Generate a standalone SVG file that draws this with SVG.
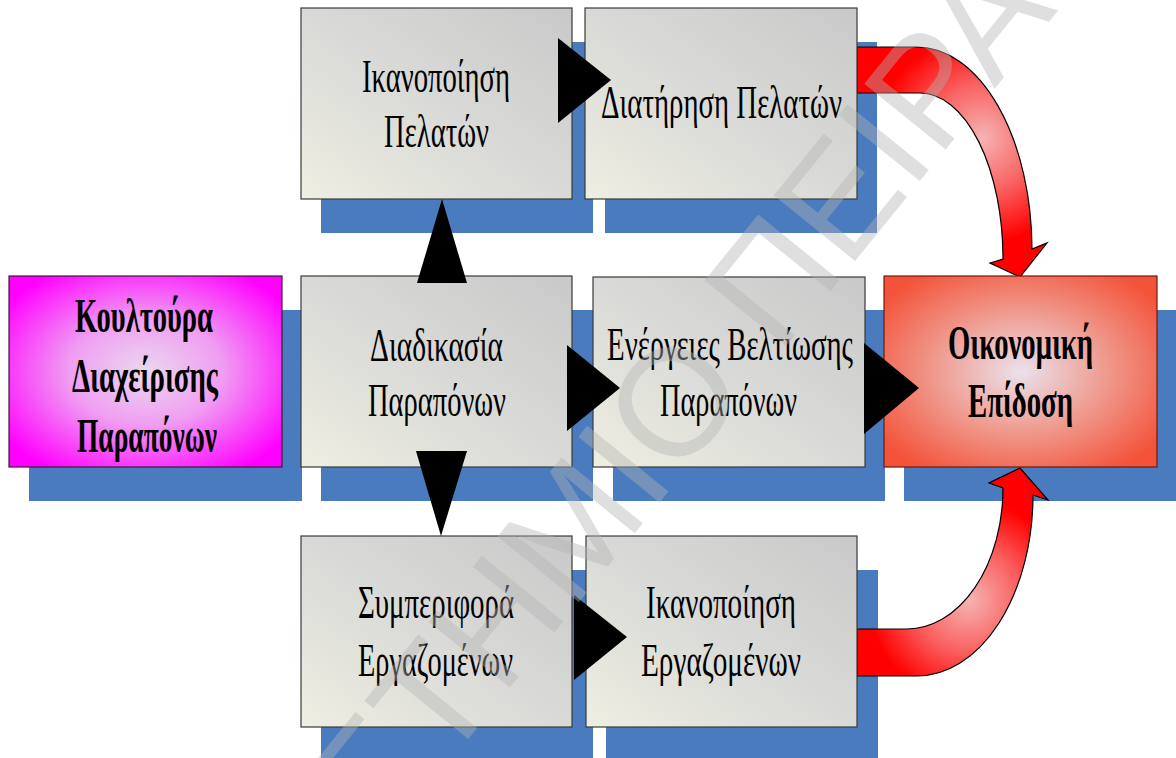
<svg xmlns="http://www.w3.org/2000/svg" width="1176" height="758" viewBox="0 0 1176 758">
  <defs>
    <linearGradient id="gGray" x1="0" y1="1" x2="1" y2="0">
      <stop offset="0" stop-color="#eeeee2"/>
      <stop offset="0.5" stop-color="#d9d9d7"/>
      <stop offset="1" stop-color="#c9c9c9"/>
    </linearGradient>
    <radialGradient id="gMagenta" cx="0.5" cy="0.5" r="0.62">
      <stop offset="0" stop-color="#ead8ef"/>
      <stop offset="0.45" stop-color="#f09ef2"/>
      <stop offset="1" stop-color="#ff00ff"/>
    </radialGradient>
    <radialGradient id="gRedBox" cx="0.5" cy="0.5" r="0.62">
      <stop offset="0" stop-color="#ebe1ec"/>
      <stop offset="0.5" stop-color="#ef9b8f"/>
      <stop offset="1" stop-color="#f4533a"/>
    </radialGradient>
    <radialGradient id="gArrowTop" gradientUnits="userSpaceOnUse" cx="982" cy="138" r="105">
      <stop offset="0" stop-color="#f6b4b4"/>
      <stop offset="0.5" stop-color="#fa6464"/>
      <stop offset="1" stop-color="#ff0000"/>
    </radialGradient>
    <radialGradient id="gArrowBottom" gradientUnits="userSpaceOnUse" cx="968" cy="600" r="100">
      <stop offset="0" stop-color="#f6b4b4"/>
      <stop offset="0.5" stop-color="#fa6464"/>
      <stop offset="1" stop-color="#ff0000"/>
    </radialGradient>
    <style>
      .shadow { fill: #4a7bbf; }
      .box { fill: url(#gGray); stroke: #3a3a3a; stroke-width: 1.2; }
      .culture { fill: url(#gMagenta); stroke: #3a1a3a; stroke-width: 1.2; }
      .result { fill: url(#gRedBox); stroke: #6b1a10; stroke-width: 1.2; }
      .lbl { font-family: "Liberation Serif", "Times New Roman", serif; font-size: 47px; fill: #000; }
      .bold { font-weight: bold; font-size: 49px; }
      .tri { fill: #000; }
      .curve { stroke: #000; stroke-width: 1.2; }
      .mark { font-family: "Liberation Sans", Arial, sans-serif; font-size: 152px; fill: #b4b4b4; opacity: 0.41; }
    </style>
  </defs>

  <rect width="1176" height="758" fill="#ffffff"/>

  <!-- drop shadows behind the boxes -->
  <g id="shadows">
    <rect class="shadow" x="321" y="42" width="272" height="191"/>
    <rect class="shadow" x="605" y="42" width="272" height="191"/>
    <rect class="shadow" x="29" y="310" width="273" height="191"/>
    <rect class="shadow" x="321" y="310" width="272" height="191"/>
    <rect class="shadow" x="613" y="310" width="272" height="191"/>
    <rect class="shadow" x="904" y="310" width="272" height="191"/>
    <rect class="shadow" x="321" y="570" width="272" height="191"/>
    <rect class="shadow" x="606" y="570" width="272" height="191"/>
  </g>

  <!-- curved red arrows into the result box -->
  <g id="curved-arrows">
    <path class="curve" fill="url(#gArrowTop)" d="M857,47 L917,47 A115,203 0 0 1 1032,249 L1047,243 L1020,277 L990,263 L1003,259 A83,166 0 0 0 920,93 L857,93 Z"/>
    <path class="curve" fill="url(#gArrowBottom)" d="M857,676 L917,676 A116,181 0 0 0 1033,495 L1048,500 L1020,468 L989,483 L1003,488 A96,141 0 0 1 907,629 L857,629 Z"/>
  </g>

  <g id="n-customer-satisfaction">
    <rect class="box" x="301" y="8" width="271" height="191"/>
    <text class="lbl" x="362" y="92" textLength="148" lengthAdjust="spacingAndGlyphs">Ικανοποίηση</text>
    <text class="lbl" x="384" y="147" textLength="105" lengthAdjust="spacingAndGlyphs">Πελατών</text>
  </g>

  <g id="n-customer-retention">
    <rect class="box" x="585" y="8" width="272" height="191"/>
    <text class="lbl" x="601" y="118" textLength="241" lengthAdjust="spacingAndGlyphs">Διατήρηση Πελατών</text>
  </g>

  <g id="n-complaint-culture">
    <rect class="culture" x="9" y="276" width="273" height="191"/>
    <text class="lbl bold" x="75" y="332" textLength="138" lengthAdjust="spacingAndGlyphs">Κουλτούρα</text>
    <text class="lbl bold" x="72" y="392" textLength="146" lengthAdjust="spacingAndGlyphs">Διαχείρισης</text>
    <text class="lbl bold" x="77" y="452" textLength="140" lengthAdjust="spacingAndGlyphs">Παραπόνων</text>
  </g>

  <g id="n-complaint-process">
    <rect class="box" x="301" y="276" width="271" height="191"/>
    <text class="lbl" x="370" y="361" textLength="133" lengthAdjust="spacingAndGlyphs">Διαδικασία</text>
    <text class="lbl" x="368" y="416" textLength="138" lengthAdjust="spacingAndGlyphs">Παραπόνων</text>
  </g>

  <g id="n-improvement-actions">
    <rect class="box" x="593" y="277" width="272" height="190"/>
    <text class="lbl" x="607" y="360" textLength="246" lengthAdjust="spacingAndGlyphs">Ενέργειες Βελτίωσης</text>
    <text class="lbl" x="660" y="416" textLength="137" lengthAdjust="spacingAndGlyphs">Παραπόνων</text>
  </g>

  <g id="n-financial-performance">
    <rect class="result" x="884" y="276" width="273" height="191"/>
    <text class="lbl bold" x="948" y="359" textLength="145" lengthAdjust="spacingAndGlyphs">Οικονομική</text>
    <text class="lbl bold" x="968" y="417" textLength="105" lengthAdjust="spacingAndGlyphs">Επίδοση</text>
  </g>

  <g id="n-employee-behaviour">
    <rect class="box" x="301" y="536" width="271" height="191"/>
    <text class="lbl" x="358" y="618" textLength="156" lengthAdjust="spacingAndGlyphs">Συμπεριφορά</text>
    <text class="lbl" x="358" y="676" textLength="155" lengthAdjust="spacingAndGlyphs">Εργαζομένων</text>
  </g>

  <g id="n-employee-satisfaction">
    <rect class="box" x="586" y="536" width="271" height="191"/>
    <text class="lbl" x="646" y="618" textLength="150" lengthAdjust="spacingAndGlyphs">Ικανοποίηση</text>
    <text class="lbl" x="641" y="676" textLength="160" lengthAdjust="spacingAndGlyphs">Εργαζομένων</text>
  </g>

  <!-- black triangular connectors -->
  <g id="connectors">
    <polygon class="tri" points="417,283 467,283 442,199"/>
    <polygon class="tri" points="416,451 467,451 441,536"/>
    <polygon class="tri" points="558,38 558,123 611,80"/>
    <polygon class="tri" points="567,345 567,431 620,388"/>
    <polygon class="tri" points="864,343 864,434 919,388"/>
    <polygon class="tri" points="574,595 574,680 627,637"/>
  </g>

  <!-- translucent diagonal watermark -->
  <text class="mark" transform="translate(690,465) rotate(-51)" x="-1060" y="0">ΠΑΝΕΠΙΣΤΗΜΙΟ ΠΕΙΡΑΙΩΣ</text>
</svg>
